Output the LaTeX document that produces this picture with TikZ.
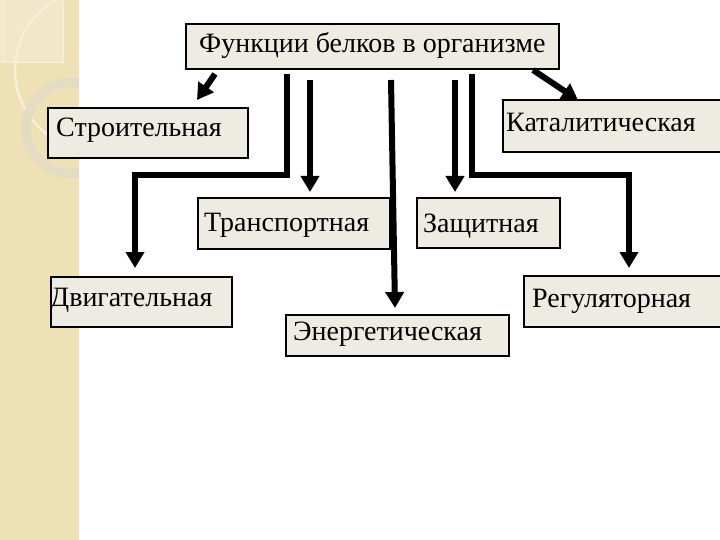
\documentclass[tikz,border=0pt]{standalone}
\usepackage{fontspec}
\setmainfont{Liberation Serif}
\usetikzlibrary{arrows.meta}
\definecolor{boxfill}{HTML}{EEEBE3}
\definecolor{strip}{HTML}{EEE1B6}
\definecolor{stripl}{HTML}{F1E8CA}
\definecolor{arcc}{HTML}{F6F0DA}
\definecolor{ring}{HTML}{E4DBC3}
\begin{document}
\begin{tikzpicture}[x=1pt,y=-1pt,
  fbox/.style={draw=black, line width=2pt, fill=boxfill, inner sep=0pt, anchor=north west},
  lbl/.style={inner sep=0pt, anchor=base west, font=\fontsize{28}{32}\selectfont},
  arr/.style={line width=6pt, line join=miter, -{Triangle[width=18pt,length=16pt]}}]
\useasboundingbox (0,0) rectangle (720,540);
\fill[white] (0,0) rectangle (720,540);
% decorative strip
\fill[strip] (0,0) rectangle (79,540);
\begin{scope}
\clip (0,0) rectangle (79,540);
\fill[stripl] (0,0) rectangle (63,63);
\draw[arcc, line width=1pt] (3,0) -- (3,63) -- (63,63) -- (63,0);
\draw[arcc, line width=2.5pt] (95,70) circle (80);
\draw[ring, line width=9pt] (72,128) circle (46);
\end{scope}
% boxes
\node[fbox, minimum width=373, minimum height=45] (top) at (185,23) {};
\node[lbl] at (199,53) {Функции белков в организме};
\node[fbox, minimum width=200, minimum height=50] (stroi) at (47,107) {};
\node[lbl] at (56,137) {Строительная};
\node[fbox, minimum width=218, minimum height=52] (katal) at (502,99) {};
\node[lbl] at (506,132) {Каталитическая};
\node[fbox, minimum width=192, minimum height=51] (trans) at (197,197) {};
\node[lbl] at (204,232) {Транспортная};
\node[fbox, minimum width=143, minimum height=50] (zasch) at (416,197) {};
\node[lbl] at (423,233) {Защитная};
\node[fbox, minimum width=181, minimum height=50] (dvig) at (50,276) {};
\node[lbl] at (50,306) {Двигательная};
\node[fbox, minimum width=223, minimum height=41] (energ) at (285,314) {};
\node[lbl] at (293,340) {Энергетическая};
\node[fbox, minimum width=198, minimum height=51] (regul) at (523,275) {};
\node[lbl] at (532,307) {Регуляторная};
% connectors
\draw[arr] ([shift={(30,4)}]top.south west) -- ([shift={(150,-7)}]stroi.north west);
\draw[arr] ([shift={(102,4)}]top.south west) -- ++(0,101) -| ([shift={(85,-8)}]dvig.north west);
\draw[arr] ([shift={(125,10)}]top.south west) -- ([shift={(113,-5)}]trans.north west);
\draw[arr] ([shift={(206,10)}]top.south west) -- ([shift={(110,-6)}]energ.north west);
\draw[arr] ([shift={(270,10)}]top.south west) -- ([shift={(39,-5)}]zasch.north west);
\draw[arr] ([shift={(287,4)}]top.south west) -- ++(0,101) -| ([shift={(106,-7)}]regul.north west);
\draw[arr] ([shift={(348,0)}]top.south west) -- ([shift={(76,1)}]katal.north west);
\end{tikzpicture}
\end{document}
